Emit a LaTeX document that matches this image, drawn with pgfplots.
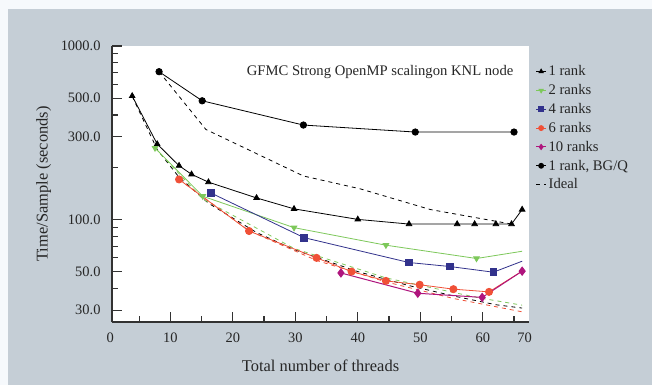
\documentclass[border=0pt]{standalone}
\usepackage{fontspec}
\setmainfont{Liberation Serif}
\usepackage{pgfplots}
\pgfplotsset{compat=1.18}
\definecolor{bgc}{RGB}{197,206,214}
\definecolor{outc}{RGB}{246,249,252}
\definecolor{axc}{RGB}{50,50,50}
\definecolor{gr}{RGB}{125,200,90}
\definecolor{bl}{RGB}{50,50,140}
\definecolor{rd}{RGB}{240,80,55}
\definecolor{mg}{RGB}{175,20,125}
\begin{document}
\begin{tikzpicture}[x=1bp,y=1bp]
\fill[outc] (0,0) rectangle (652,385);
\fill[bgc] (8,0) rectangle (652,376);
\useasboundingbox (0,0) rectangle (652,385);
\begin{axis}[
  at={(112bp,63bp)}, anchor=south west,
  scale only axis, width=417bp, height=276bp,
  ymode=log,
  xmin=0.67, xmax=67.4, ymin=25.6, ymax=1000,
  axis x line*=bottom, axis y line*=left,
  axis line style={line width=1.4bp, axc, -},
  axis background/.style={fill=white},
  tick align=inside,
  tick style={line width=1.1bp, axc},
  major tick length=10bp, minor tick length=6bp,
  xtick={10,20,...,60}, minor xtick={5,15,...,65},
  extra x ticks={0.7,67.0}, extra x tick labels={0,70},
  extra x tick style={major tick length=0bp, xticklabel style={xshift=-2bp}},
  ytick={30,50,100,300,500,1000},
  yticklabels={30.0,50.0,100.0,300.0,500.0,1000.0},
  minor ytick={40,60,70,80,90,200,400,600,700,800,900},
  /pgf/number format/assume math mode=true,
  ticklabel style={font=\fontsize{14.5}{17}\selectfont, text=black!85},
  xticklabel style={yshift=-7bp},
  yticklabel style={xshift=-8bp},
  xlabel={Total number of threads},
  ylabel={Time/Sample (seconds)},
  label style={font=\fontsize{16.5}{19}\selectfont, text=black!85},
  xlabel style={at={(axis description cs:0.5,-0.159)}, anchor=center},
  ylabel style={at={(axis description cs:-0.164,0.5)}, anchor=center},
  legend style={at={(axis description cs:1.013,0.94)}, anchor=north west,
    draw=none, fill=none, font=\fontsize{14.7}{17}\selectfont, text=black!85,
    row sep=3.2bp, inner sep=1bp},
  legend cell align=left,
  legend image code/.code={\draw[mark=none] (0bp,0bp) -- (10bp,0bp);
    \draw[mark size=2.5bp] plot coordinates {(5bp,0bp)};},
  clip=false,
]
% ideal lines for the KNL runs
\addplot[forget plot, black, line width=0.8bp, dash pattern=on 4bp off 4bp] coordinates {
 (3.9,513)(7.9,253)(11.4,175)(16.1,124)(23.8,84)(29.8,67)(40,50)(48.2,41.5)(55.9,35.8)(62.1,32.2)(66.3,30.8)};
\addplot[forget plot, gr, line width=0.8bp, dash pattern=on 4bp off 4bp] coordinates {
 (7.55,258)(15.2,131)(29.8,68)(44.5,46)(59,35.5)(66.3,32)};
\addplot[forget plot, rd, line width=0.8bp, dash pattern=on 4bp off 4bp] coordinates {
 (11.4,170)(22.6,86)(33.4,58)(44.5,43.6)(55.3,35)(66.3,29.3)};
% measured
\addplot[black, line width=0.8bp, mark=triangle*, mark size=3.2bp] coordinates {
 (3.9,515)(7.9,272)(11.4,204)(13.4,182)(16.1,164)(23.8,133)(29.8,115)(40,100)(48.2,94)(55.9,94)(58.7,94)(62.1,94)(64.6,94)(66.3,114)};
\addlegendentry{1 rank}
\addplot[gr, line width=0.8bp, mark=triangle*, mark size=3.2bp, mark options={rotate=180}, mark indices={1,2,3,4,5}] coordinates {
 (7.55,258)(15.2,136)(29.8,89.6)(44.5,71)(59,59.5)(66.3,65.5)};
\addlegendentry{2 ranks}
\addplot[bl, line width=0.8bp, mark=square*, mark size=3.3bp, mark indices={1,2,3,4,5}] coordinates {
 (16.5,142)(31.4,78.5)(48.2,56.4)(54.7,53.5)(61.7,49.6)(66.3,57.4)};
\addlegendentry{4 ranks}
\addplot[rd, line width=0.8bp, mark=*, mark size=3.6bp, mark indices={1,2,3,4,5,6,7,8}] coordinates {
 (11.4,170)(22.6,85.7)(33.4,60)(39,50)(44.5,44.2)(49.9,42)(55.3,39.6)(61,38.2)(66.3,50.3)};
\addlegendentry{6 ranks}
\addplot[mg, line width=1bp, mark=diamond*, mark size=4bp] coordinates {
 (37.3,49.1)(49.6,37.5)(59.9,35.5)(66.3,50.3)};
\addlegendentry{10 ranks}
\addplot[black, line width=0.8bp, mark=*, mark size=3.2bp] coordinates {
 (8.2,711)(15.1,483)(31.3,350)(49.2,319)(65,319)};
\addlegendentry{1 rank, BG/Q}
\addplot[black, line width=0.8bp, dash pattern=on 4bp off 4bp] coordinates {
 (8.2,711)(15.7,330)(31.3,178)(40.4,150)(51.6,114)(64.6,94)};
\addlegendentry{Ideal}
\node[font=\fontsize{14.7}{17}\selectfont, text=black!85, anchor=center] at (rel axis cs:0.643,0.905) {GFMC Strong OpenMP scalingon KNL node};
\end{axis}
\end{tikzpicture}
\end{document}
